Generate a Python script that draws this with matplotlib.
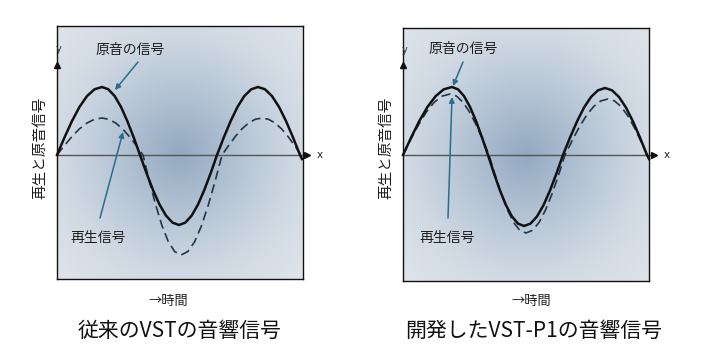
import numpy as np
import matplotlib
matplotlib.use("Agg")
import matplotlib.pyplot as plt
from matplotlib.colors import LinearSegmentedColormap

plt.rcParams['font.family'] = ['Noto Sans CJK JP', 'DejaVu Sans']

# ---- data (x: time offset, y: signal level) ----
left_orig_x = [0, 7.5, 15, 22.5, 30, 37.5, 45, 51.3, 57.7, 64, 70.3, 76.7, 83,
               89.5, 96, 102.5, 109, 115.5, 122, 128.3, 134.7, 141, 147.3, 153.7, 160,
               166.8, 173.7, 180.5, 187.3, 194.2, 201, 208, 215, 222, 229, 236, 243, 245]
left_orig_y = [0, 17.6, 34, 48.1, 58.9, 65.7, 68, 65.7, 58.9, 48.1, 34, 17.6, 0,
               -18.1, -35, -49.5, -60.6, -67.6, -70, -67.6, -60.6, -49.5, -35, -18.1, 0,
               17.6, 34, 48.1, 58.9, 65.7, 68, 65.7, 58.9, 48.1, 34, 17.6, 0, -4]
left_play_x = [0, 7.5, 15, 22.5, 30, 37.5, 45, 51.8, 58.7, 65.5, 72.3, 79.2, 86,
               92.3, 98.7, 105, 111.3, 117.7, 124, 130.8, 137.7, 144.5, 151.3, 158.2, 165,
               171.7, 178.3, 185, 191.7, 198.3, 205, 211.5, 218, 224.5, 231, 237.5, 244, 245]
left_play_y = [0, 9.6, 18.5, 26.2, 32, 35.7, 37, 35.7, 32, 26.2, 18.5, 9.6, 0,
               -25.9, -50, -70.7, -86.6, -96.6, -100, -96.6, -86.6, -70.7, -50, -25.9, 0,
               9.6, 18.5, 26.2, 32, 35.7, 37, 35.7, 32, 26.2, 18.5, 9.6, 0, -3]

right_orig_x = [0, 8.2, 16.3, 24.5, 32.7, 40.8, 49, 55, 61, 67, 73, 79, 85,
                91, 97, 103, 109, 115, 121, 127.5, 134, 140.5, 147, 153.5, 160,
                167, 174, 181, 188, 195, 202, 209, 216, 223, 230, 237, 244, 246]
right_orig_y = [0, 17.6, 34, 48.1, 58.9, 65.7, 68, 65.7, 58.9, 48.1, 34, 17.6, 0,
                -18.4, -35.5, -50.2, -61.5, -68.6, -71, -68.6, -61.5, -50.2, -35.5, -18.4, 0,
                17.4, 33.5, 47.4, 58, 64.7, 67, 64.7, 58, 47.4, 33.5, 17.4, 0, -4]
right_play_x = [0, 7.8, 15.7, 23.5, 31.3, 39.2, 47, 53.5, 60, 66.5, 73, 79.5, 86,
                92.2, 98.3, 104.5, 110.7, 116.8, 123, 129.5, 136, 142.5, 149, 155.5, 162,
                169.2, 176.3, 183.5, 190.7, 197.8, 205, 211.5, 218, 224.5, 231, 237.5, 244, 246]
right_play_y = [0, 15.8, 30.5, 43.1, 52.8, 58.9, 61, 58.9, 52.8, 43.1, 30.5, 15.8, 0,
                -20.2, -39, -55.1, -67.5, -75.3, -78, -75.3, -67.5, -55.1, -39, -20.2, 0,
                14.5, 28, 39.6, 48.5, 54.1, 56, 54.1, 48.5, 39.6, 28, 14.5, 0, -3]

titles = ["従来のVSTの音響信号", "開発したVST-P1の音響信号"]
ylabel = "再生と原音信号"
xlabel = "→時間"
label_orig = "原音の信号"
label_play = "再生信号"

W, H = 712, 353
fig = plt.figure(figsize=(W / 100, H / 100), dpi=100)
fig.patch.set_facecolor("white")

def fx(px):
    return px / W

def fy(py):
    return 1 - py / H

cmap = LinearSegmentedColormap.from_list("bg", ["#93a9c1", "#b3c3d4", "#d0d9e3", "#dfe4ea"])

arrow_col = "#2a6d8e"

panels = [
    dict(box=(57, 303, 26, 279), axis_y=155,
         ox=left_orig_x, oy=left_orig_y, px=left_play_x, py=left_play_y,
         title=titles[0], title_x=180, ylab_x=40, xlab_x=168,
         lo=(130, 50), lo_arrow=((138, 62), (115, 90)),
         lp=(98, 238), lp_arrow=((100, 218), (123, 132)),
         yarrow=(57, 65), ytext=(59, 49), xtip=310, xtext=320),
    dict(box=(403, 649, 28, 281), axis_y=155,
         ox=right_orig_x, oy=right_orig_y, px=right_play_x, py=right_play_y,
         title=titles[1], title_x=534, ylab_x=386, xlab_x=531,
         lo=(463, 49), lo_arrow=((463, 62), (453, 86)),
         lp=(447, 238), lp_arrow=((448, 218), (452, 97)),
         yarrow=(403, 65), ytext=(405, 50), xtip=657, xtext=667),
]

for p in panels:
    l, r, t, b = p["box"]
    ax = fig.add_axes([fx(l), fy(b), fx(r) - fx(l), fy(t) - fy(b)])
    x0 = l
    ay = p["axis_y"]
    ax.set_xlim(0, r - l)
    ax.set_ylim(ay - b, ay - t)
    # radial gradient background
    gx, gy = np.meshgrid(np.linspace(-1, 1, 300), np.linspace(-1, 1, 300))
    rr = np.sqrt(gx ** 2 + gy ** 2) / np.sqrt(2)
    ax.imshow(rr, cmap=cmap, extent=[0, 1, 0, 1], transform=ax.transAxes,
              aspect="auto", zorder=0, vmin=0, vmax=1, interpolation="bilinear")
    ax.set_xticks([])
    ax.set_yticks([])
    for s in ax.spines.values():
        s.set_color("#111111")
        s.set_linewidth(1.0)
    # x axis line with arrow
    ax.plot([0, p["xtip"] - x0 - 4], [0, 0], color="#555555", lw=1.0, zorder=2, clip_on=False)
    ax.plot([p["xtip"] - x0 - 3], [0], marker=">", color="#111111", ms=4, clip_on=False, zorder=3)
    fig.text(fx(p["xtext"]), fy(ay), "x", fontsize=7.5, ha="center", va="center",
             color="#222222", family="DejaVu Sans")
    # y arrow head
    ax.plot([p["yarrow"][0] - x0], [ay - p["yarrow"][1]], marker="^", color="#111111",
            ms=4, clip_on=False, zorder=3)
    fig.text(fx(p["ytext"][0]), fy(p["ytext"][1]), "y", fontsize=7, ha="center",
             va="center", color="#333333", family="DejaVu Sans")
    # curves
    ax.plot(p["px"], p["py"], color="#243545", lw=1.2, ls=(0, (5.5, 3)), zorder=4, clip_on=False)
    ax.plot(p["ox"], p["oy"], color="#111111", lw=1.8, zorder=5, clip_on=False)
    # labels with arrows
    (sx, sy), (ex, ey) = p["lo_arrow"]
    ax.annotate("", xy=(ex - x0, ay - ey), xytext=(sx - x0, ay - sy),
                arrowprops=dict(arrowstyle="-|>", color=arrow_col, lw=1.1,
                                mutation_scale=8, shrinkA=0, shrinkB=0), zorder=6)
    (sx, sy), (ex, ey) = p["lp_arrow"]
    ax.annotate("", xy=(ex - x0, ay - ey), xytext=(sx - x0, ay - sy),
                arrowprops=dict(arrowstyle="-|>", color=arrow_col, lw=1.1,
                                mutation_scale=8, shrinkA=0, shrinkB=0), zorder=6)
    fig.text(fx(p["lo"][0]), fy(p["lo"][1]), label_orig, fontsize=10, ha="center",
             va="center", color="#1e1e1e")
    fig.text(fx(p["lp"][0]), fy(p["lp"][1]), label_play, fontsize=10, ha="center",
             va="center", color="#1e1e1e")
    # y label
    fig.text(fx(p["ylab_x"]), fy(148), ylabel, fontsize=10.5, rotation=90,
             ha="center", va="center", color="#1e1e1e")
    # x label
    fig.text(fx(p["xlab_x"]), fy(302), xlabel, fontsize=9.5, ha="center",
             va="center", color="#1e1e1e")
    # title
    fig.text(fx(p["title_x"]), fy(331), p["title"], fontsize=15, ha="center",
             va="center", color="#111111")

fig.savefig("out.png", dpi=100, facecolor="white")
